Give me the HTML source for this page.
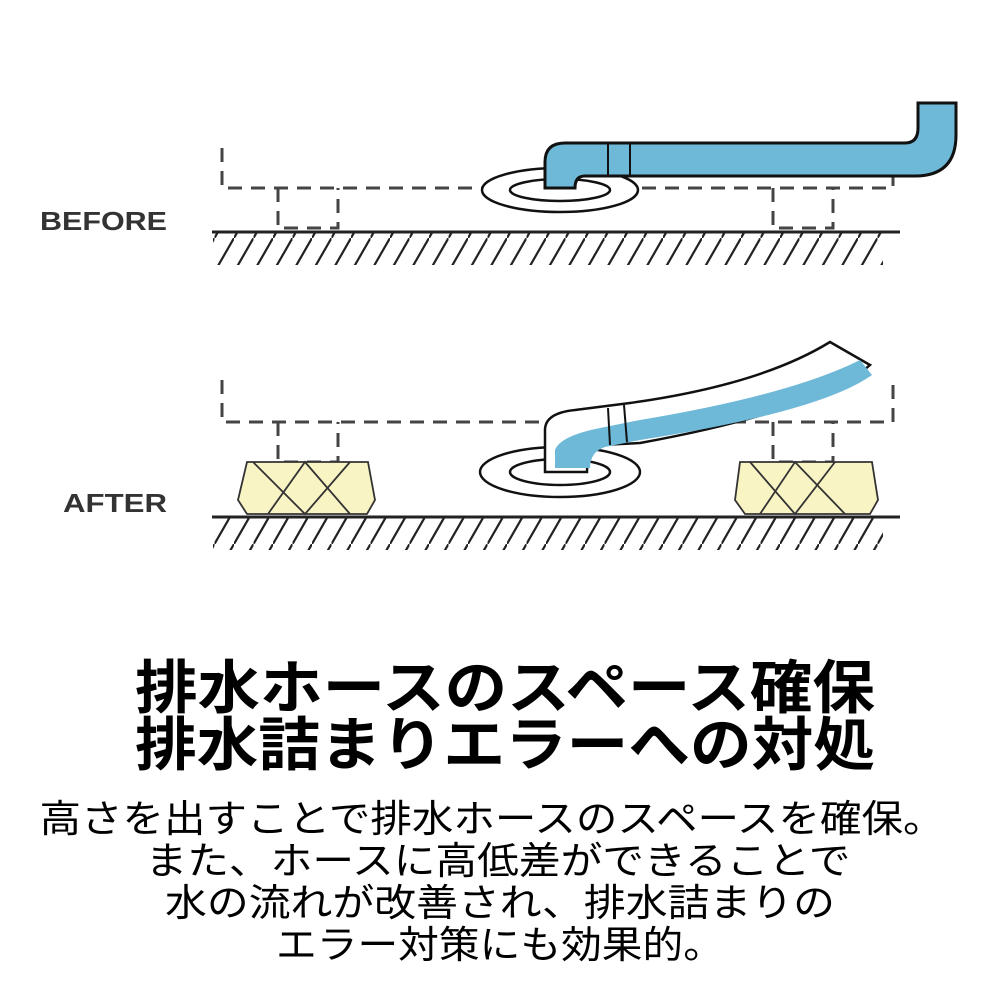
<!DOCTYPE html>
<html><head><meta charset="utf-8"><style>html,body{margin:0;padding:0;background:#fff}svg{display:block}</style></head>
<body>
<svg width="1000" height="1000" viewBox="0 0 1000 1000" xmlns="http://www.w3.org/2000/svg">
<defs>
<pattern id="hatch" width="19.5" height="34" patternUnits="userSpaceOnUse">
<line x1="19.5" y1="0" x2="0" y2="34" stroke="#222" stroke-width="2.2"/>
</pattern>
</defs>
<g font-family="Liberation Sans, sans-serif" font-weight="bold" fill="#333">
<text x="40" y="230" font-size="26" textLength="127" lengthAdjust="spacingAndGlyphs">BEFORE</text>
<text x="63" y="512" font-size="26" textLength="104" lengthAdjust="spacingAndGlyphs">AFTER</text>
</g>
<!-- BEFORE -->
<rect x="213" y="232" width="670" height="33" fill="url(#hatch)"/>
<line x1="212" y1="232" x2="900" y2="232" stroke="#222" stroke-width="3"/>
<g fill="none" stroke="#444" stroke-width="3" stroke-dasharray="14,9">
<path d="M222 148 V188 H893 V148"/>
<path d="M278 188 V228 H338 V188"/>
<path d="M773 188 V228 H833 V188"/>
</g>
<ellipse cx="560" cy="190" rx="78" ry="22" fill="#fff" stroke="#111" stroke-width="2.5"/>
<ellipse cx="560" cy="190" rx="50" ry="11" fill="none" stroke="#111" stroke-width="2.5"/>
<path d="M545 188 V162 Q545 143 565 143 H905 Q918 143 918 128 V103 H956 V135 Q956 176 915 176 H612 Q590 176 585 176 Q575 176 575 188 Z" fill="#6fb9d8" stroke="#111" stroke-width="3"/>
<line x1="608" y1="143" x2="608" y2="176" stroke="#111" stroke-width="2"/>
<line x1="630" y1="143" x2="630" y2="176" stroke="#111" stroke-width="2"/>
<!-- AFTER -->
<rect x="213" y="517" width="670" height="33" fill="url(#hatch)"/>
<g fill="none" stroke="#444" stroke-width="3" stroke-dasharray="14,9">
<path d="M222 380 V422 H893 V380"/>
<path d="M278 422 V462 H338 V422"/>
<path d="M773 422 V462 H833 V422"/>
</g>
<g stroke="#333" stroke-width="1.8" fill="#f8f4c4">
<path d="M247 462 H368 L375 500 L367 514 H247 L238 500 Z"/>
<path d="M253 462 L305 514 L350 462 M268 514 L305 462 L350 514" fill="none"/>
<path d="M740 462 H872 L878 500 L870 514 H745 L735 500 Z"/>
<path d="M750 462 L795 514 L835 462 M760 514 L795 462 L845 514" fill="none"/>
</g>
<line x1="212" y1="517" x2="900" y2="517" stroke="#222" stroke-width="3"/>
<ellipse cx="560" cy="472" rx="80" ry="25" fill="#fff" stroke="#111" stroke-width="2.5"/>
<ellipse cx="560" cy="472" rx="50" ry="13" fill="none" stroke="#111" stroke-width="2.5"/>
<path d="M545 472 V430 Q545 413 575 410 L630 403 Q760 385 830 342 L870 365 Q820 410 640 443 L600 445 Q587 450 587 472 Z" fill="#fff" stroke="#111" stroke-width="2.5"/>
<path d="M555 468 V450 Q560 436 600 428 L640 420 Q790 395 860 360 L872 375 Q820 412 640 440 L605 447 Q590 452 590 468 Z" fill="#6fb9d8"/>
<line x1="608" y1="408" x2="610" y2="445" stroke="#111" stroke-width="2"/>
<line x1="624" y1="405" x2="627" y2="442" stroke="#111" stroke-width="2"/>
<!-- text -->
<g font-family="Liberation Sans, Noto Sans CJK JP, sans-serif" fill="#000" text-anchor="middle">
<text x="505" y="708" font-size="58" font-weight="bold" textLength="740" lengthAdjust="spacingAndGlyphs">排水ホースのスペース確保</text>
<text x="505" y="765" font-size="58" font-weight="bold" textLength="740" lengthAdjust="spacingAndGlyphs">排水詰まりエラーへの対処</text>
<text x="492" y="832" font-size="38" textLength="905" lengthAdjust="spacingAndGlyphs">高さを出すことで排水ホースのスペースを確保。</text>
<text x="498" y="874" font-size="38" textLength="705" lengthAdjust="spacingAndGlyphs">また、ホースに高低差ができることで</text>
<text x="500" y="916" font-size="38" textLength="670" lengthAdjust="spacingAndGlyphs">水の流れが改善され、排水詰まりの</text>
<text x="500" y="958" font-size="38" textLength="448" lengthAdjust="spacingAndGlyphs">エラー対策にも効果的。</text>
</g>
</svg>
</body></html>
